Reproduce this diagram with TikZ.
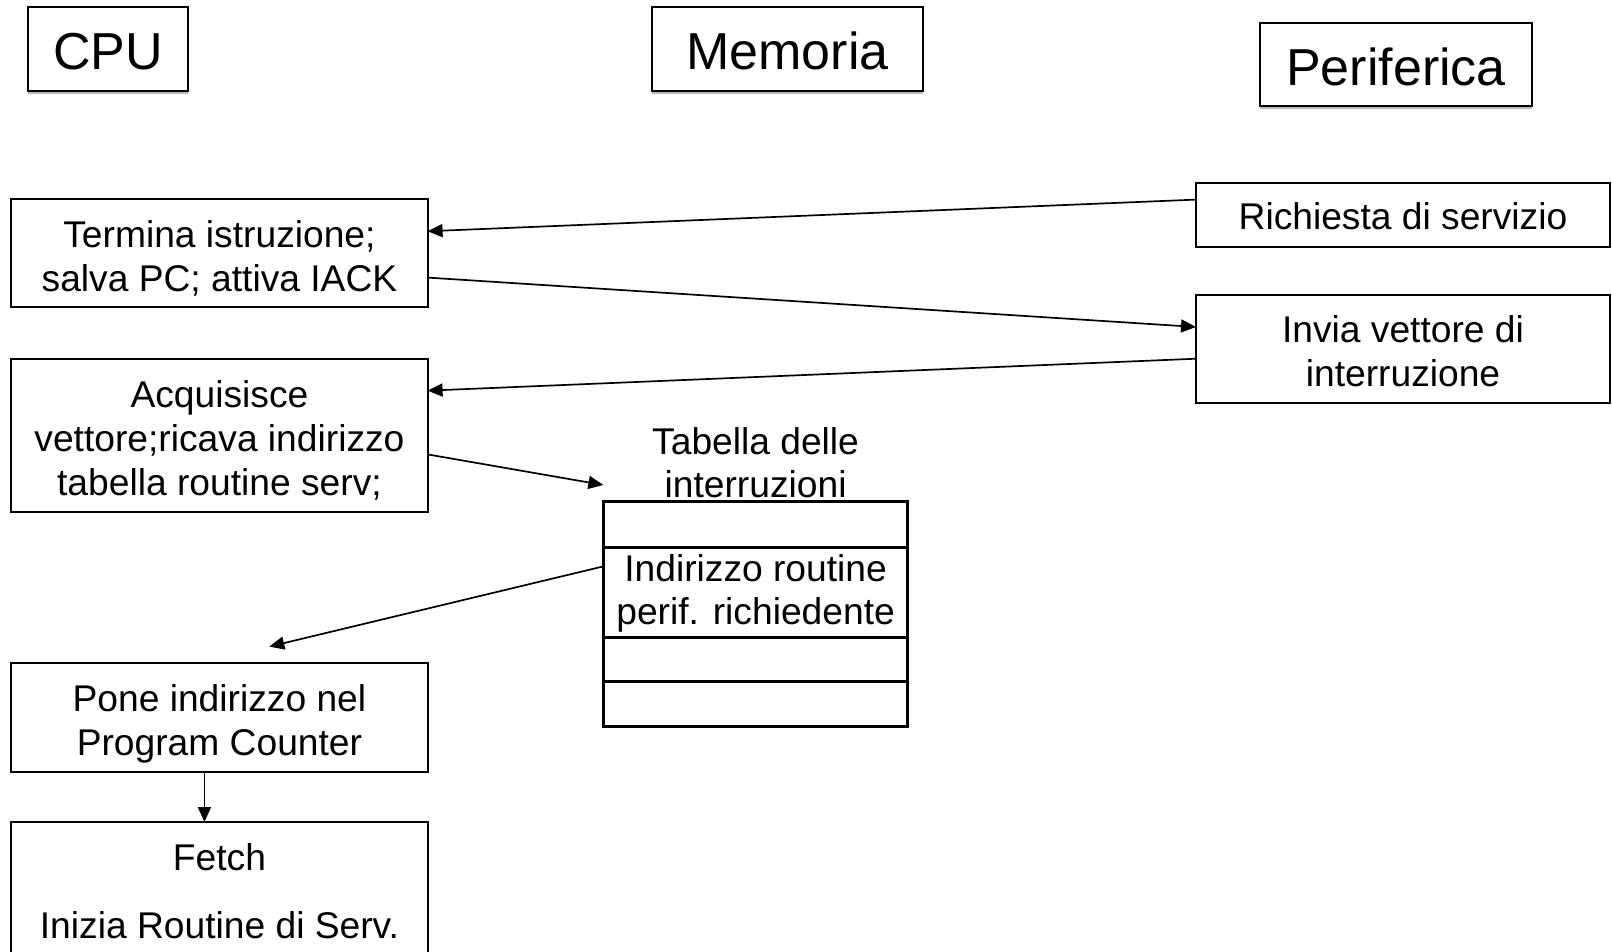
\documentclass[tikz,border=0pt]{standalone}
\usepackage{fontspec}
\setmainfont{Liberation Sans}
\usetikzlibrary{arrows.meta,calc}
\begin{document}
\begin{tikzpicture}[x=0.5pt,y=-0.5pt,
  box/.style={draw, line width=1pt, minimum width=208.15pt, inner sep=0pt, outer sep=0pt},
  rbox/.style={box, minimum width=207pt},
  txt/.style={align=center, inner sep=0pt, font=\fontsize{18.6}{22}\selectfont},
  head/.style={draw, line width=1pt, minimum height=41.65pt, inner sep=0pt, outer sep=0pt},
  htxt/.style={inner sep=0pt, font=\fontsize{26}{30}\selectfont},
  cell/.style={draw, line width=1.5pt, minimum width=152.15pt, inner sep=0pt, outer sep=0pt, align=center, font=\fontsize{18.6}{21.6}\selectfont},
  lbl/.style={align=center, inner sep=0pt, font=\fontsize{18.6}{21.5}\selectfont},
  arr/.style={line width=0.85pt, -{Triangle[length=7.5pt,width=6.5pt]}},
  shade/.style={draw=gray!55, line width=1pt}
]
\clip (0,0) rectangle (1612,952);
\fill[white] (0,0) rectangle (1612,952);

% headers
\node[head, minimum width=80.1pt] (cpu) at (108,48.9) {};
\node[head, minimum width=135.5pt] (mem) at (787.5,48.9) {};
\node[head, minimum width=136pt] (per) at (1396,64.3) {};
\foreach \n in {cpu,mem,per}
  \draw[shade] ([yshift=-1pt]\n.south west) -- ([yshift=-1pt]\n.south east);
\node[htxt] (cpu-t) at ([yshift=-1.6pt]cpu.center) {CPU};
\node[htxt] (mem-t) at ([yshift=-1.2pt]mem.center) {Memoria};
\node[htxt] (per-t) at ([yshift=-1.5pt]per.center) {Periferica};

% CPU column
\node[box, minimum height=54pt] (termina) at (219.45,253.4) {};
\node[txt] (termina-t) at ([yshift=-2.6pt]termina.center) {Termina istruzione;\\salva PC; attiva IACK};
\node[box, minimum height=76.6pt] (acq) at (219.45,435.4) {};
\node[txt] (acq-t) at ([yshift=-2.3pt]acq.center) {Acquisisce\\vettore;ricava indirizzo\\tabella routine serv;};
\node[box, minimum height=54.5pt] (pone) at (219.45,717.5) {};
\node[txt] (pone-t) at ([yshift=-3pt]pone.center) {Pone indirizzo nel\\Program Counter};
\node[box, minimum height=69pt] (fetch) at (219.45,891) {};
\node[txt] (fetch-t) at (fetch.center) {Fetch\\[11.8pt]Inizia Routine di Serv.};

% Periferica column
\node[rbox, minimum height=31.85pt] (rich) at (1403,214.9) {};
\node[txt] (rich-t) at ([yshift=-0.6pt]rich.center) {Richiesta di servizio};
\node[rbox, minimum height=54pt] (invia) at (1403,349) {};
\node[txt] (invia-t) at ([yshift=-1pt]invia.center) {Invia vettore di\\interruzione};

% Tabella
\node[lbl] (tablabel) at (755.6,462.5) {Tabella delle\\interruzioni};
\node[cell, minimum height=22.65pt] (t1) at (755.6,524.4) {};
\node[cell, minimum height=45pt] (t2) at (755.6,592) {};
\node[lbl] (t2-t) at ([yshift=-0.5pt]t2.center) {Indirizzo routine\\perif. richiedente};
\node[cell, minimum height=22.3pt] (t3) at (755.6,659.3) {};
\node[cell, minimum height=22.6pt] (t4) at (755.6,704.2) {};

\coordinate (tabin) at (603.4,485);
\coordinate (poneup) at (269.3,646.6);

% connectors
\draw[arr] ($(rich.north west)!0.26!(rich.south west)$) -- ($(termina.north east)!0.295!(termina.south east)$);
\draw[arr] ($(termina.north east)!0.724!(termina.south east)$) -- ($(invia.north west)!0.296!(invia.south west)$);
\draw[arr] ($(invia.north west)!0.59!(invia.south west)$) -- ($(acq.north east)!0.208!(acq.south east)$);
\draw[arr] ($(acq.north east)!0.624!(acq.south east)$) -- (tabin);
\draw[arr] ($(t2.north west)!0.215!(t2.south west)$) -- (poneup);
\draw[arr] ($(pone.south)+(-15,0)$) -- ($(fetch.north)+(-15,0)$);
\end{tikzpicture}
\end{document}
